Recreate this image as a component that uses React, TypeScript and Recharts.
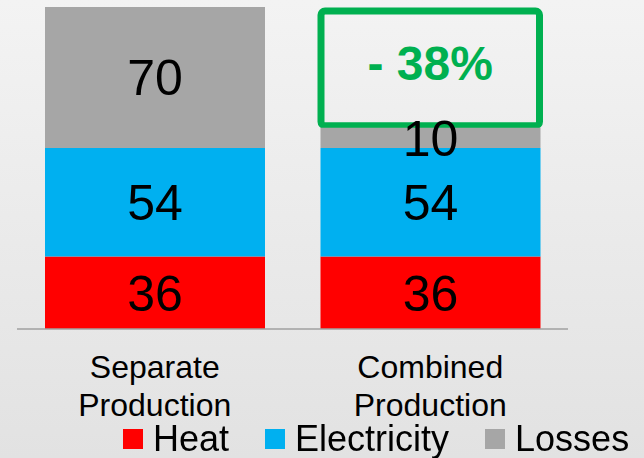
import { BarChart, Bar, XAxis, YAxis, LabelList, Legend, ReferenceArea } from 'recharts';

// Energy input per production type, split by use
const categories = ['Separate Production', 'Combined Production'];
const heat = [36, 36];
const electricity = [54, 54];
const losses = [70, 10];

const series = [
  { key: 'heat', name: 'Heat', color: '#ff0000', values: heat },
  { key: 'electricity', name: 'Electricity', color: '#00b0f0', values: electricity },
  { key: 'losses', name: 'Losses', color: '#a6a6a6', values: losses },
];

const data = categories.map((name, i) => ({
  name,
  heat: heat[i],
  electricity: electricity[i],
  losses: losses[i],
}));

const totals = data.map((d) => d.heat + d.electricity + d.losses);
const saving = Math.round((1 - totals[1] / totals[0]) * 100);

const FONT = '"Liberation Sans", Arial, sans-serif';

function CategoryTick({ x, y, payload }: any) {
  const [first, ...rest] = String(payload.value).split(' ');
  return (
    <text x={x} textAnchor="middle" fontFamily={FONT} fontSize={32} fill="#000">
      <tspan x={x} y={y + 49}>{first}</tspan>
      <tspan x={x} y={y + 87}>{rest.join(' ')}</tspan>
    </text>
  );
}

function SavingBox({ x, y, width, height }: any) {
  const inset = 28.5;
  return (
    <g>
      <rect
        x={x + inset}
        y={y}
        width={width - inset * 2}
        height={height}
        rx={4}
        fill="none"
        stroke="#00b050"
        strokeWidth={7}
      />
      <text
        x={x + width / 2}
        y={y + height * 0.6}
        textAnchor="middle"
        fontFamily={FONT}
        fontWeight="bold"
        fontSize={48}
        fill="#00b050"
      >
        {`- ${saving}%`}
      </text>
    </g>
  );
}

function LegendRow() {
  return (
    <div
      style={{
        display: 'flex',
        alignItems: 'center',
        height: 39,
        paddingLeft: 123,
        fontFamily: FONT,
        fontSize: 36,
        lineHeight: '36px',
        color: '#000',
      }}
    >
      {series.map((s) => (
        <div key={s.key} style={{ display: 'flex', alignItems: 'center', marginRight: 36 }}>
          <span style={{ width: 20, height: 20, background: s.color, marginRight: 10 }} />
          <span>{s.name}</span>
        </div>
      ))}
    </div>
  );
}

export default function App() {
  return (
    <div
      style={{
        position: 'fixed',
        left: 0,
        top: 0,
        width: 644,
        height: 458,
        background: 'linear-gradient(to bottom, #f3f3f3 0%, #e2e2e2 100%)',
      }}
    >
      <BarChart
        width={644}
        height={458}
        data={data}
        margin={{ top: 7, right: 76, bottom: 0, left: 17 }}
        barSize={220}
      >
        <XAxis
          dataKey="name"
          tickLine={false}
          tickSize={0}
          tickMargin={0}
          height={90}
          stroke="#a0a0a0"
          strokeWidth={1.5}
          tick={<CategoryTick />}
          interval={0}
        />
        <YAxis hide domain={[0, 160]} />
        {series.map((s) => (
          <Bar key={s.key} dataKey={s.key} name={s.name} stackId="a" fill={s.color} isAnimationActive={false}>
            <LabelList dataKey={s.key} position="center" fill="#000" fontSize={50} fontFamily={FONT} />
          </Bar>
        ))}
        <ReferenceArea
          x1="Combined Production"
          x2="Combined Production"
          y1={101}
          y2={158}
          shape={<SavingBox />}
          ifOverflow="visible"
        />
        <Legend
          verticalAlign="bottom"
          wrapperStyle={{ left: 0, width: 644 }}
          content={<LegendRow />}
        />
      </BarChart>
    </div>
  );
}
